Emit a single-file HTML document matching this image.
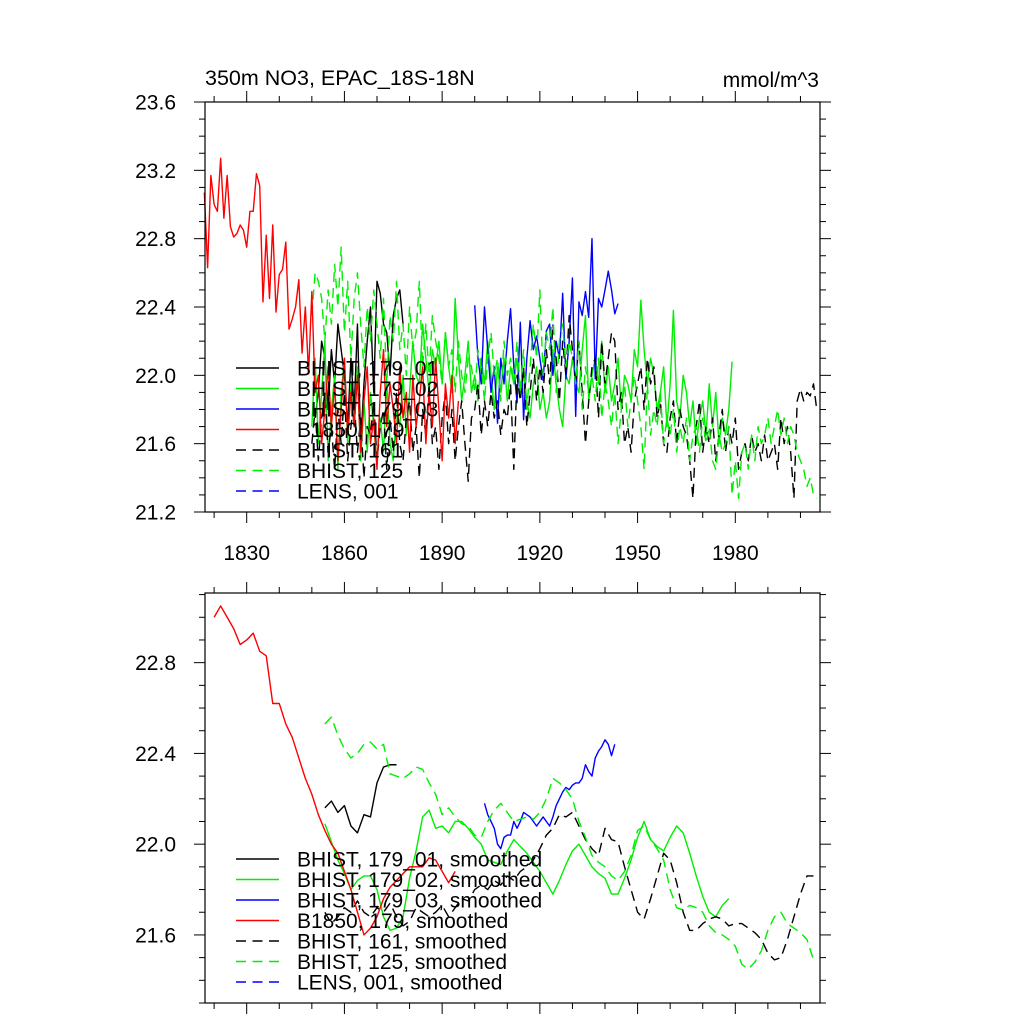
<!DOCTYPE html>
<html><head><meta charset="utf-8"><style>
html,body{margin:0;padding:0;background:#fff;}
svg{display:block;font-family:"Liberation Sans",sans-serif;}
</style></head><body>
<svg id="chart" width="1024" height="1024" viewBox="0 0 1024 1024" xmlns="http://www.w3.org/2000/svg">
<rect x="0" y="0" width="1024" height="1024" fill="#fff"/>
<text x="205" y="85" font-size="21.5">350m NO3, EPAC_18S-18N</text>
<text x="819" y="87" font-size="21" text-anchor="end">mmol/m^3</text>
<g id="top"></g><g id="bot"></g>
</svg>
<script>
// ---- data ----
const xTicks = [1830, 1860, 1890, 1920, 1950, 1980];
const topYTicks = [21.2, 21.6, 22.0, 22.4, 22.8, 23.2, 23.6];
const botYTicks = [21.6, 22.0, 22.4, 22.8];
const seriesNames = ["BHIST, 179_01","BHIST, 179_02","BHIST, 179_03","B1850, 179","BHIST, 161","BHIST, 125","LENS, 001"];
const seriesColors = ["#000","#0e0","#00f","#f00","#000","#0e0","#00f"];
const seriesDashed = [false,false,false,false,true,true,true];

// raw annual series (top panel)
const raw01Start = 1851;
const raw01 = [21.75,21.9,22.2,22.1,21.8,22.15,21.95,22.3,22.15,22.0,21.7,22.1,21.8,22.3,21.6,21.95,22.2,22.4,21.9,22.55,22.48,22.3,22.25,22.0,22.35,22.45,22.5,22.3];
const raw02Start = 1850;
const raw02 = [21.7,22.1,21.6,21.9,22.2,21.5,21.8,22.0,21.45,21.9,
22.1,21.6,21.95,21.7,22.05,21.5,21.85,21.55,21.9,21.7,
21.5,21.75,21.55,21.95,21.6,21.5,21.8,21.7,22.0,21.65,
21.9,22.2,22.0,21.95,22.3,22.1,21.9,22.15,22.05,22.2,
21.95,22.25,22.05,21.9,22.45,22.1,21.85,22.0,22.2,21.9,
22.0,21.85,22.1,21.95,22.2,22.0,21.8,22.05,21.9,22.1,
21.85,22.05,21.95,22.1,21.9,22.0,21.85,21.75,21.95,22.05,
21.8,21.9,21.75,21.85,22.15,21.95,21.8,21.7,22.0,21.95,
22.1,21.95,21.9,22.15,22.35,21.85,22.0,22.1,21.95,22.2,
21.9,22.05,21.85,21.95,22.1,21.8,22.0,21.95,21.85,22.15,
22.05,22.44,22.15,21.95,22.1,22.0,21.8,21.9,22.05,21.7,
21.95,22.38,21.85,21.75,22.0,21.9,21.7,21.85,21.6,21.75,
21.85,21.65,21.95,21.7,21.9,21.6,21.75,21.65,21.8,22.08];
const raw03Start = 1900;
const raw03 = [22.41,22.1,21.95,22.4,22.15,21.9,22.05,21.72,22.1,21.95,
22.2,22.39,22.05,21.84,22.31,21.74,22.1,22.32,22.15,22.23,
22.1,21.97,22.26,22.3,22.0,22.2,22.1,22.48,21.98,22.2,
22.57,21.76,22.43,22.35,22.49,22.34,22.8,21.98,22.45,22.4,
22.5,22.61,22.5,22.36,22.42];
const raw1850Start = 1817;
const raw1850 = [23.07,22.63,23.17,23.0,22.96,23.27,22.92,23.17,22.87,22.81,22.83,22.88,22.85,22.75,22.96,22.96,23.18,23.11,22.43,22.82,22.45,22.88,22.37,22.59,22.62,22.78,22.27,22.33,22.40,22.56,22.13,22.40,22.01,22.49,
21.9,22.0,21.6,21.8,22.05,21.7,21.95,21.5,21.8,22.1,21.65,21.9,21.7,22.0,21.55,21.85,22.05,21.6,21.75,21.45,21.9,22.15,21.7,21.95,21.8,21.6,22.05,21.75,21.9,21.55,22.0,21.7,21.85,22.05,21.6,21.9,21.7,22.1,21.8,21.5,21.95,21.75,22.0,21.6,21.85];
const raw161Start = 1850;
const raw161 = [21.6,21.8,21.5,21.75,21.9,21.55,21.7,21.45,21.8,21.6,
21.9,21.5,21.7,21.85,21.55,21.75,21.4,21.7,21.65,21.85,
21.5,21.7,21.8,21.45,21.75,21.55,21.9,21.6,21.5,21.75,
21.85,21.55,21.7,21.4,21.8,21.65,21.95,21.6,21.7,21.45,
21.75,21.9,21.6,21.8,21.5,21.7,21.85,21.6,21.38,21.75,
21.8,21.95,21.65,21.85,21.7,21.9,21.75,21.85,21.65,21.8,
21.75,21.95,21.45,22.0,21.85,22.05,21.7,21.9,22.1,21.85,
22.05,21.9,22.15,21.95,22.3,22.1,21.85,22.2,22.0,22.35,
22.15,21.95,22.2,21.9,21.6,21.85,22.05,22.1,21.75,22.2,
21.95,22.1,22.25,22.2,21.8,21.9,21.6,21.7,21.55,21.85,
21.95,22.05,21.8,22.1,21.95,22.05,21.75,21.85,21.6,21.55,
21.75,21.85,21.6,21.8,21.7,21.65,21.5,21.28,21.7,21.85,
21.55,21.7,21.6,21.75,21.5,21.65,21.8,21.55,21.7,21.6,
21.75,21.45,21.55,21.6,21.5,21.65,21.55,21.6,21.5,21.65,
21.5,21.55,21.6,21.45,21.75,21.6,21.7,21.55,21.28,21.85,
21.92,21.85,21.9,21.88,21.95,21.8];
const raw125Start = 1850;
const raw125 = [22.35,22.6,22.55,22.45,22.2,22.5,22.3,22.65,22.4,22.75,
22.25,22.55,22.1,22.45,22.6,22.3,22.05,22.4,22.2,22.5,
22.3,22.1,22.45,21.95,22.35,22.2,22.55,22.15,22.3,22.0,
22.4,22.15,22.25,22.55,22.05,22.3,22.0,22.35,22.2,22.1,
21.95,22.25,22.05,22.15,21.9,22.2,22.0,21.9,22.1,22.05,
21.9,22.15,22.05,21.85,22.1,22.25,22.0,22.1,21.85,22.2,
22.0,22.1,21.95,22.2,21.9,22.15,21.8,22.05,22.3,22.1,
22.5,22.0,22.25,22.15,22.4,21.9,22.2,22.3,22.05,22.2,
22.1,21.95,22.2,21.8,22.05,21.9,22.0,21.85,22.1,21.75,
21.95,21.85,21.7,21.9,21.6,21.8,21.95,21.7,21.85,22.0,
21.85,21.7,21.45,21.95,21.65,21.8,21.7,21.9,21.6,21.75,
21.65,21.8,21.55,21.7,21.6,21.75,21.5,21.65,21.7,21.55,
21.75,21.6,21.7,21.5,21.45,21.65,21.55,21.6,21.7,21.3,
21.5,21.28,21.55,21.6,21.45,21.65,21.5,21.7,21.6,21.65,
21.75,21.6,21.7,21.8,21.65,21.75,21.6,21.7,21.65,21.55,
21.5,21.45,21.35,21.4,21.3,21.28];

// smoothed series (bottom panel)
const sm01Start = 1854, sm01Step = 2;
const sm01 = [22.16,22.19,22.14,22.17,22.08,22.05,22.13,22.12,22.27,22.34,22.35,22.35];
const sm02Start = 1854, sm02Step = 2;
const sm02 = [22.09,22.01,21.93,21.87,21.8,21.84,21.86,21.86,21.8,21.68,21.62,21.63,21.68,21.85,21.97,22.12,22.15,22.07,22.08,22.05,22.1,22.1,22.07,22.03,22.0,21.93,21.92,21.91,21.97,22.02,21.99,21.96,21.92,21.88,21.83,21.78,21.84,21.91,21.97,22.0,21.95,21.9,21.87,21.85,21.78,21.78,21.85,21.93,22.03,22.1,22.02,21.99,21.97,22.03,22.08,22.05,21.96,21.86,21.77,21.7,21.68,21.73,21.76];
const sm03Start = 1903, sm03Step = 1;
const sm03 = [22.18,22.13,22.1,22.07,22.0,21.98,22.03,22.04,22.04,22.1,22.07,22.1,22.14,22.13,22.12,22.1,22.08,22.1,22.12,22.1,22.08,22.12,22.17,22.2,22.23,22.25,22.24,22.26,22.27,22.27,22.29,22.35,22.32,22.3,22.38,22.41,22.43,22.46,22.44,22.39,22.44];
const sm1850Start = 1820, sm1850Step = 2;
const sm1850 = [23.0,23.05,23.0,22.95,22.88,22.9,22.93,22.85,22.83,22.62,22.62,22.53,22.47,22.38,22.29,22.22,22.13,22.06,22.0,21.96,21.88,21.8,21.7,21.6,21.63,21.68,21.76,21.81,21.84,21.87,21.9,21.9,21.9,21.94,21.93,21.88,21.83,21.88];
const sm161Start = 1854, sm161Step = 2;
const sm161 = [21.7,21.65,21.68,21.72,21.7,21.75,21.7,21.68,21.72,21.7,21.74,21.68,21.64,21.66,21.72,21.7,21.68,21.7,21.73,21.68,21.72,21.76,21.75,21.8,21.82,21.8,21.84,21.82,21.86,21.84,21.88,21.9,21.93,21.98,22.04,22.07,22.13,22.12,22.14,22.08,22.02,21.98,21.95,22.07,22.02,22.01,21.9,21.8,21.7,21.67,21.76,21.86,21.96,21.93,21.83,21.7,21.62,21.62,21.65,21.67,21.68,21.67,21.64,21.65,21.65,21.63,21.61,21.58,21.52,21.49,21.5,21.58,21.68,21.78,21.86,21.86];
const sm125Start = 1854, sm125Step = 2;
const sm125 = [22.53,22.56,22.48,22.42,22.38,22.4,22.44,22.45,22.42,22.44,22.31,22.3,22.29,22.31,22.34,22.33,22.27,22.22,22.13,22.16,22.12,22.09,22.08,22.04,22.03,22.1,22.15,22.18,22.14,22.1,22.11,22.12,22.11,22.14,22.2,22.29,22.27,22.24,22.2,22.1,22.03,21.95,21.92,21.9,21.86,21.84,21.88,21.95,22.06,22.08,22.02,21.98,21.93,21.8,21.72,21.71,21.73,21.72,21.7,21.64,21.61,21.6,21.58,21.55,21.47,21.45,21.48,21.53,21.62,21.68,21.7,21.65,21.63,21.61,21.58,21.49];

// ---- layout ----
const L = 205, R = 820;
const X0 = 1817.2, X1 = 2006;
const topP = {t:102, b:512, lo:21.2, hi:23.6};
const botP = {t:593, b:1003, lo:21.30, hi:23.107};
const NS = "http://www.w3.org/2000/svg";
function xs(yr){ return L + (yr - X0) / (X1 - X0) * (R - L); }
function ysFn(p){ return v => p.b - (v - p.lo) / (p.hi - p.lo) * (p.b - p.t); }
function mk(tag, attrs, parent){
  const e = document.createElementNS(NS, tag);
  for (const k in attrs) e.setAttribute(k, attrs[k]);
  parent.appendChild(e); return e;
}

function drawPanel(gid, p, yTicks, showX, series, legendY0, suffix, pname){
  const g = document.getElementById(gid);
  const ys = ysFn(p);
  series.forEach((s, i) => {
    const pts = s.vals.map((v, k) => xs(s.start + k * s.step).toFixed(2) + "," + ys(v).toFixed(2)).join(" ");
    const pl = mk("polyline", {points: pts, fill: "none", stroke: seriesColors[s.ci], "stroke-width": 1.4, "stroke-linejoin": "round"}, g);
    if (seriesDashed[s.ci]) pl.setAttribute("stroke-dasharray", "10 6");
    
    
  });
  const fr = mk("rect", {x: L, y: p.t, width: R - L, height: p.b - p.t, fill: "none", stroke: "#000", "stroke-width": 1.2}, g);
  
  
  const ax = mk("g", {stroke: "#000", "stroke-width": 1}, g);
  
  
  for (let v = Math.ceil(p.lo * 10 - 1e-6); v <= Math.floor(p.hi * 10 + 1e-6); v++){
    const val = v / 10, y = ys(val);
    const major = yTicks.some(t => Math.abs(t - val) < 1e-6);
    const len = major ? 11 : 6;
    mk("line", {x1: L - len, x2: L, y1: y, y2: y}, ax);
    mk("line", {x1: R, x2: R + len, y1: y, y2: y}, ax);
  }
  yTicks.forEach(t => {
    const tx = mk("text", {x: L - 29, y: ys(t) + 7.5, "font-size": 21, "text-anchor": "end", stroke: "none", fill: "#000"}, g);
    tx.textContent = t.toFixed(1);
    
    
  });
  const xa = mk("g", {stroke: "#000", "stroke-width": 1}, g);
  
  
  for (let yr = 1820; yr <= 2000; yr += 10){
    const x = xs(yr);
    const major = xTicks.indexOf(yr) >= 0;
    const len = major ? 11 : 6;
    mk("line", {x1: x, x2: x, y1: p.b, y2: p.b + len}, xa);
    mk("line", {x1: x, x2: x, y1: p.t - len, y2: p.t}, xa);
  }
  if (showX){
    xTicks.forEach(t => {
      const tx = mk("text", {x: xs(t), y: 560, "font-size": 21, "text-anchor": "middle", fill: "#000"}, g);
      tx.textContent = t;
      
      
    });
  }
  const lg = mk("g", {}, g);
  
  
  seriesNames.forEach((n, i) => {
    const y = legendY0 + i * 20.5;
    const ln = mk("line", {x1: 236, x2: 279, y1: y, y2: y, stroke: seriesColors[i], "stroke-width": 1.4}, lg);
    if (seriesDashed[i]) ln.setAttribute("stroke-dasharray", "10 6.5");
    
    
    const tx = mk("text", {x: 297, y: y + 7.5, "font-size": 21, fill: "#000"}, lg);
    tx.textContent = n + suffix;
    
    
  });
}

drawPanel("top", topP, topYTicks, true, [
  {ci:0, start:raw01Start, step:1, vals:raw01},
  {ci:1, start:raw02Start, step:1, vals:raw02},
  {ci:2, start:raw03Start, step:1, vals:raw03},
  {ci:4, start:raw161Start, step:1, vals:raw161},
  {ci:5, start:raw125Start, step:1, vals:raw125},
  {ci:3, start:raw1850Start, step:1, vals:raw1850}
], 368, "", "top-panel");

drawPanel("bot", botP, botYTicks, false, [
  {ci:0, start:sm01Start, step:sm01Step, vals:sm01},
  {ci:1, start:sm02Start, step:sm02Step, vals:sm02},
  {ci:2, start:sm03Start, step:sm03Step, vals:sm03},
  {ci:4, start:sm161Start, step:sm161Step, vals:sm161},
  {ci:5, start:sm125Start, step:sm125Step, vals:sm125},
  {ci:3, start:sm1850Start, step:sm1850Step, vals:sm1850}
], 859, ", smoothed", "bottom-panel");
</script>
</body></html>
